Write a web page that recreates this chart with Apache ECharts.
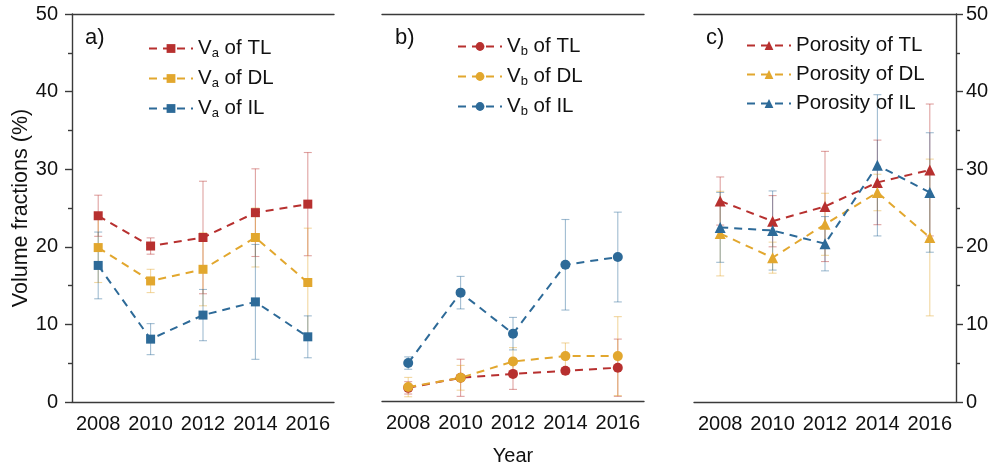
<!DOCTYPE html>
<html>
<head>
<meta charset="utf-8">
<script src="https://cdn.jsdelivr.net/npm/echarts@6/dist/echarts.min.js"></script>
<style>
  html, body { margin: 0; padding: 0; background: #fff; }
  #chart { width: 995px; height: 471px; }
</style>
</head>
<body>
<div id="chart"></div>
<script>
// 年份 (x 轴类目)
var years = ['2008', '2010', '2012', '2014', '2016'];

// a) V_a
var vaTL = [24.0, 20.1, 21.2, 24.4, 25.5];
var vaTLErr = [2.65, 1.05, 7.25, 5.65, 6.65];
var vaDL = [19.9, 15.6, 17.1, 21.2, 15.4];
var vaDLErr = [4.5, 1.5, 4.7, 3.8, 7.0];
var vaIL = [17.6, 8.1, 11.2, 12.9, 8.4];
var vaILErr = [4.3, 2.0, 3.3, 7.4, 2.7];

// b) V_b
var vbTL = [1.7, 3.0, 3.5, 3.9, 4.3];
var vbTLErr = [0.8, 2.4, 2.0, 0.4, 3.7];
var vbDL = [1.8, 3.0, 5.1, 5.8, 5.8];
var vbDLErr = [1.25, 1.6, 1.8, 1.7, 5.1];
var vbIL = [4.9, 14.0, 8.7, 17.6, 18.6];
var vbILErr = [0.8, 2.1, 2.1, 5.85, 5.8];

// c) Porosity
var pTL = [25.9, 23.3, 25.2, 28.3, 29.9];
var pTLErr = [3.1, 3.3, 7.1, 5.45, 8.5];
var pDL = [21.7, 18.6, 22.9, 27.0, 21.2];
var pDLErr = [5.45, 2.0, 4.0, 2.35, 10.1];
var pIL = [22.5, 22.1, 20.4, 30.5, 27.0];
var pILErr = [4.5, 5.1, 3.5, 9.1, 7.7];

var RED = '#b7302f', YEL = '#e2a72e', BLU = '#2d6a98';
var AXC = '#3a3a3a';
var FONT = 'Liberation Sans, Arial, sans-serif';

var chart = echarts.init(document.getElementById('chart'));

var gridLefts = [72, 382, 694];
var grids = gridLefts.map(function (l) {
    return { left: l, width: 262, top: 14, height: 388 };
});

var xAxes = [];
gridLefts.forEach(function (l, i) {
    // 底部坐标轴
    xAxes.push({
        type: 'category', gridIndex: i, data: years, boundaryGap: true,
        axisLine: { lineStyle: { color: AXC, width: 1.4 } },
        axisTick: { alignWithLabel: true, length: 6, lineStyle: { color: AXC, width: 1.4 } },
        axisLabel: { color: '#111', fontSize: 20, fontFamily: FONT, margin: 12, interval: 0, hideOverlap: false },
        name: i === 1 ? 'Year' : '', nameLocation: 'middle', nameGap: 45,
        nameTextStyle: { color: '#111', fontSize: 20, fontFamily: FONT }
    });
    // 顶部坐标轴 (只有刻度)
    xAxes.push({
        type: 'category', gridIndex: i, data: years, boundaryGap: true, position: 'top',
        axisLine: { lineStyle: { color: AXC, width: 1.4 } },
        axisTick: { alignWithLabel: true, length: 5, lineStyle: { color: AXC, width: 1.4 } },
        axisLabel: { show: false }
    });
});

var yBase = {
    type: 'value', min: 0, max: 50, interval: 10, splitLine: { show: false },
    axisLine: { show: true, lineStyle: { color: AXC, width: 1.4 } },
    axisTick: { show: true, length: 7, lineStyle: { color: AXC, width: 1.4 } },
    minorTick: { show: true, splitNumber: 2, length: 4, lineStyle: { color: AXC, width: 1.4 } },
    axisLabel: { color: '#111', fontSize: 20, fontFamily: FONT, margin: 14 }
};
var yAxes = [
    Object.assign({}, yBase, {
        gridIndex: 0, position: 'left',
        name: 'Volume fractions (%)', nameLocation: 'middle', nameGap: 40,
        nameTextStyle: { color: '#111', fontSize: 21.5, fontFamily: FONT }
    }),
    Object.assign({}, yBase, { gridIndex: 1, show: false }),
    Object.assign({}, yBase, {
        gridIndex: 2, position: 'right',
        axisLabel: { color: '#111', fontSize: 20, fontFamily: FONT, margin: 10 }
    })
];

// 误差棒
function errSeries(xi, yi, vals, errs, color) {
    var data = vals.map(function (v, k) { return [k, v - errs[k], v + errs[k]]; });
    return {
        type: 'custom', xAxisIndex: xi, yAxisIndex: yi, z: 1, silent: true,
        data: data, encode: { x: 0, y: [1, 2] },
        renderItem: function (params, api) {
            var lo = api.coord([api.value(0), api.value(1)]);
            var hi = api.coord([api.value(0), api.value(2)]);
            var w = 4;
            var st = { stroke: color, lineWidth: 1.1, opacity: 0.45 };
            return {
                type: 'group',
                children: [
                    { type: 'line', shape: { x1: lo[0], y1: lo[1], x2: hi[0], y2: hi[1] }, style: st },
                    { type: 'line', shape: { x1: lo[0] - w, y1: lo[1], x2: lo[0] + w, y2: lo[1] }, style: st },
                    { type: 'line', shape: { x1: hi[0] - w, y1: hi[1], x2: hi[0] + w, y2: hi[1] }, style: st }
                ]
            };
        }
    };
}

function lineSeries(name, xi, yi, vals, color, symbol, size) {
    return {
        name: name, type: 'line', xAxisIndex: xi, yAxisIndex: yi, z: 3,
        data: vals, symbol: symbol, symbolSize: size,
        itemStyle: { color: color },
        lineStyle: { color: color, width: 2, type: [8, 6] }
    };
}

var series = [
    errSeries(0, 0, vaTL, vaTLErr, RED),
    errSeries(0, 0, vaDL, vaDLErr, YEL),
    errSeries(0, 0, vaIL, vaILErr, BLU),
    errSeries(2, 1, vbTL, vbTLErr, RED),
    errSeries(2, 1, vbDL, vbDLErr, YEL),
    errSeries(2, 1, vbIL, vbILErr, BLU),
    errSeries(4, 2, pTL, pTLErr, RED),
    errSeries(4, 2, pDL, pDLErr, YEL),
    errSeries(4, 2, pIL, pILErr, BLU),
    lineSeries('Va of TL', 0, 0, vaTL, RED, 'rect', 9),
    lineSeries('Va of DL', 0, 0, vaDL, YEL, 'rect', 9),
    lineSeries('Va of IL', 0, 0, vaIL, BLU, 'rect', 9),
    lineSeries('Vb of TL', 2, 1, vbTL, RED, 'circle', 10),
    lineSeries('Vb of DL', 2, 1, vbDL, YEL, 'circle', 10),
    lineSeries('Vb of IL', 2, 1, vbIL, BLU, 'circle', 10),
    lineSeries('Porosity of TL', 4, 2, pTL, RED, 'triangle', 11),
    lineSeries('Porosity of DL', 4, 2, pDL, YEL, 'triangle', 11),
    lineSeries('Porosity of IL', 4, 2, pIL, BLU, 'triangle', 11)
];

var legendText = {
    color: '#111', fontSize: 20.5, fontFamily: FONT,
    rich: {
        n: { fontSize: 20.5, fontFamily: FONT, color: '#111', verticalAlign: 'middle' },
        s: { fontSize: 13, fontFamily: FONT, color: '#111', verticalAlign: 'bottom', padding: [10, 0, 0, 0] }
    }
};
function legendFmt(name) {
    var m = name.match(/^V([ab])(.*)$/);
    if (m) return '{n|V}{s|' + m[1] + '}{n|' + m[2] + '}';
    return name;
}
function mkLegend(names, left, top) {
    return {
        data: names, orient: 'vertical', left: left, top: top,
        itemWidth: 44, itemHeight: 11, itemGap: 8, selectedMode: false,
        formatter: legendFmt, textStyle: legendText
    };
}

var option = {
    animation: false,
    backgroundColor: '#fff',
    grid: grids,
    xAxis: xAxes,
    yAxis: yAxes,
    legend: [
        mkLegend(['Va of TL', 'Va of DL', 'Va of IL'], 143, 33),
        mkLegend(['Vb of TL', 'Vb of DL', 'Vb of IL'], 452, 31),
        mkLegend(['Porosity of TL', 'Porosity of DL', 'Porosity of IL'], 741, 30)
    ],
    graphic: [
        { type: 'text', left: 85, top: 27, style: { text: 'a)', fontSize: 22, fontFamily: FONT, fill: '#111' } },
        { type: 'text', left: 395, top: 27, style: { text: 'b)', fontSize: 22, fontFamily: FONT, fill: '#111' } },
        { type: 'text', left: 706, top: 27, style: { text: 'c)', fontSize: 22, fontFamily: FONT, fill: '#111' } }
    ],
    series: series
};

chart.setOption(option);
</script>
</body>
</html>
